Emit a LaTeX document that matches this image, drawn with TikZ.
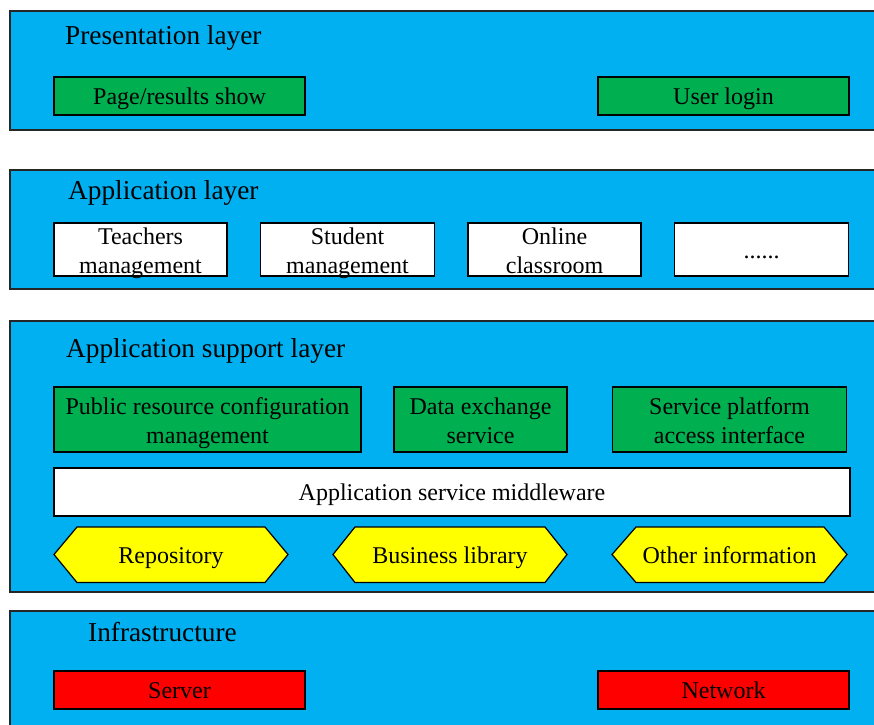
\documentclass[tikz,border=0pt]{standalone}
\usepackage{fontspec}
\setmainfont{Liberation Serif}
\definecolor{layerblue}{HTML}{00B0F0}
\definecolor{boxgreen}{HTML}{00B050}
\definecolor{boxyellow}{HTML}{FFFF00}
\definecolor{boxred}{HTML}{FF0000}
\begin{document}
\begin{tikzpicture}[x=1pt,y=-1pt,
  layer/.style={draw=black!85,line width=1.2pt,fill=layerblue},
  ttl/.style={anchor=west,inner sep=0pt,text height=18.5pt,text depth=6pt,font=\fontsize{27.3}{32}\selectfont},
  box/.style={draw=black,line width=1.2pt,inner sep=0pt,align=center,font=\fontsize{24}{29}\selectfont},
  oneline/.style={text height=19.5pt,text depth=2.3pt},
  twoline/.style={text height=48pt,text depth=1pt},
  greenbox/.style={box,fill=boxgreen},
  whitebox/.style={box,fill=white},
  redbox/.style={box,fill=boxred},
  hexshape/.style={draw=black,line width=1.2pt,fill=boxyellow},
  hextext/.style={inner sep=0pt,oneline,font=\fontsize{24}{29}\selectfont}
]
\useasboundingbox (0,0) rectangle (874,724);
\clip (0,0) rectangle (874,724);
\fill[white] (0,0) rectangle (874,724);

% layers
\draw[layer] (10,11) rectangle (890,130);
\draw[layer] (10,170) rectangle (890,289);
\draw[layer] (10,321) rectangle (890,592);
\draw[layer] (10,611) rectangle (890,740);

% titles
\node[ttl] (t1) at (65,38) {Presentation layer};
\node[ttl] (t2) at (68,193) {Application layer};
\node[ttl] (t3) at (66,351) {Application support layer};
\node[ttl] (t4) at (88,635) {Infrastructure};

% presentation
\node[greenbox,oneline,minimum width=251pt,minimum height=38pt] (page) at (179.5,96) {Page/results show};
\node[greenbox,oneline,minimum width=251pt,minimum height=38pt] (login) at (723.5,96) {User login};

% application
\node[whitebox,twoline,minimum width=173pt,minimum height=53pt] (teach) at (140.5,249.5) {Teachers\\management};
\node[whitebox,twoline,minimum width=174pt,minimum height=53pt] (stud) at (347.5,249.5) {Student\\management};
\node[whitebox,twoline,minimum width=173pt,minimum height=53pt] (online) at (554.5,249.5) {Online\\classroom};
\node[whitebox,oneline,minimum width=174pt,minimum height=53pt] (dots) at (761.5,249.5) {......};

% application support
\node[greenbox,twoline,minimum width=307pt,minimum height=65pt] (pub) at (207.5,419.5) {Public resource configuration\\management};
\node[greenbox,twoline,minimum width=173pt,minimum height=65pt] (data) at (480.5,419.5) {Data exchange\\service};
\node[greenbox,twoline,minimum width=234pt,minimum height=65pt] (serv) at (729.5,419.5) {Service platform\\access interface};
\node[whitebox,oneline,minimum width=796pt,minimum height=48pt] (mid) at (452,492) {Application service middleware};

\draw[hexshape] (54,554.5) -- (77,527) -- (265,527) -- (288,554.5) -- (265,582.5) -- (77,582.5) -- cycle;
\draw[hexshape] (333,554.5) -- (355,527) -- (545,527) -- (567,554.5) -- (545,582.5) -- (355,582.5) -- cycle;
\draw[hexshape] (612,554.5) -- (636,527) -- (824,527) -- (847,554.5) -- (824,582.5) -- (636,582.5) -- cycle;
\node[hextext] (repo) at (171,554.5) {Repository};
\node[hextext] (bus) at (450,554.5) {Business library};
\node[hextext] (other) at (729.5,554.5) {Other information};

% infrastructure
\node[redbox,oneline,minimum width=251pt,minimum height=38pt] (server) at (179.5,690) {Server};
\node[redbox,oneline,minimum width=251pt,minimum height=38pt] (net) at (723.5,690) {Network};
\end{tikzpicture}
\end{document}
